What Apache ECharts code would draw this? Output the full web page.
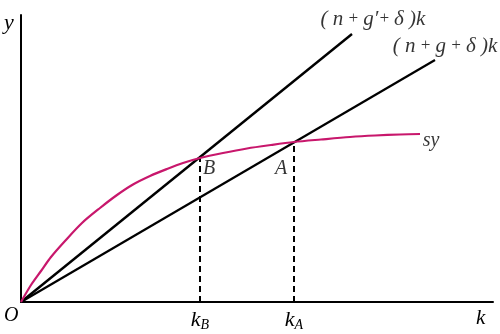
<!DOCTYPE html>
<html>
<head>
<meta charset="utf-8">
<script src="https://cdn.jsdelivr.net/npm/echarts@6/dist/echarts.min.js"></script>
<style>
html,body{margin:0;padding:0;background:#fff;}
#c{width:500px;height:334px;}
</style>
</head>
<body>
<div id="c"></div>
<script>
// Data (units, origin at O)
var curveSY = [[0,0],[10,17],[20,31],[30,45],[44,61],[61,79],[79,94],[96,107],[112,117.5],[129,126],[146,133],[162,139],[179,144],[202,149],[226,153.5],[250,157],[273,160],[300,162.5],[329,165],[354,166.5],[379,167.5],[399,168]];
var lineHigh = [[0,0],[331,268]];   // (n+g'+δ)k
var lineLow = [[0,0],[414,242]];    // (n+g+δ)k
var pointB = [179,144];
var pointA = [273,160];
var tickValues = [179,273];
var tickNames = ['B','A'];

var serif = '"Liberation Serif","DejaVu Serif",serif';
var chart = echarts.init(document.getElementById('c'), null, {renderer:'canvas'});

var rich = {
  p:{fontFamily:serif,fontSize:21,color:'#000'},
  i:{fontFamily:serif,fontSize:21,fontStyle:'italic',color:'#000'},
  o:{fontFamily:serif,fontSize:17,color:'#000'},
  k:{fontFamily:serif,fontSize:22,fontStyle:'italic',color:'#000'},
  s:{fontFamily:serif,fontSize:14,fontStyle:'italic',color:'#000',verticalAlign:'bottom',padding:[9,0,0,0]}
};

function anchor(pt, text, offset){
  return {
    value: pt,
    label:{show:true,position:'inside',offset:offset,formatter:text,rich:rich,
      fontFamily:serif,fontSize:20,fontStyle:'italic',color:'#000'}
  };
}

var option = {
  animation:false,
  backgroundColor:'#fff',
  grid:{left:21,right:7,top:15,bottom:32,containLabel:false},
  xAxis:{
    type:'value',min:0,max:472,
    axisLine:{show:true,onZero:false,lineStyle:{color:'#000',width:2}},
    axisTick:{show:false},
    splitLine:{show:false},
    axisLabel:{
      show:true,customValues:tickValues,margin:7,
      formatter:function(v){var idx=tickValues.indexOf(v);return '{k|k}{s|'+tickNames[idx]+'}';},
      rich:rich
    }
  },
  yAxis:{
    type:'value',min:0,max:287,
    axisLine:{show:true,onZero:false,lineStyle:{color:'#000',width:2}},
    axisTick:{show:false},
    splitLine:{show:false},
    axisLabel:{show:false}
  },
  series:[
    {type:'line',data:lineHigh,symbol:'none',lineStyle:{color:'#000',width:2.4},z:3},
    {type:'line',data:lineLow,symbol:'none',lineStyle:{color:'#000',width:2.2},z:3},
    {type:'line',data:curveSY,symbol:'none',smooth:0.3,lineStyle:{color:'#c8176c',width:2.2},z:4},
    {type:'line',data:[[pointB[0],0],pointB],symbol:'none',lineStyle:{color:'#000',width:2,type:[6,4]},z:2},
    {type:'line',data:[[pointA[0],0],pointA],symbol:'none',lineStyle:{color:'#000',width:2,type:[6,4]},z:2},
    {type:'scatter',symbolSize:1,itemStyle:{color:'rgba(0,0,0,0)'},silent:true,z:5,
      data:[
        anchor(lineHigh[1],'{p|(}{i| n}{o| + }{i|g′}{o|+ }{i|δ}{p| )}{i|k}',[21,-15]),
        anchor(lineLow[1],'{p|(}{i| n}{o| + }{i|g}{o| + }{i|δ}{p| )}{i|k}',[10,-14]),
        anchor(pointB,'B',[9,11]),
        anchor(pointA,'A',[-13,27]),
        anchor(curveSY[curveSY.length-1],'sy',[11,7])
      ]}
  ],
  graphic:[
    {type:'text',left:4,top:12,style:{text:'y',font:'italic 22px '+serif,fill:'#000'}},
    {type:'text',left:4,top:306,style:{text:'O',font:'italic 20px '+serif,fill:'#000'}},
    {type:'text',left:476,top:308,style:{text:'k',font:'italic 21px '+serif,fill:'#000'}}
  ]
};
chart.setOption(option);
</script>
</body>
</html>
